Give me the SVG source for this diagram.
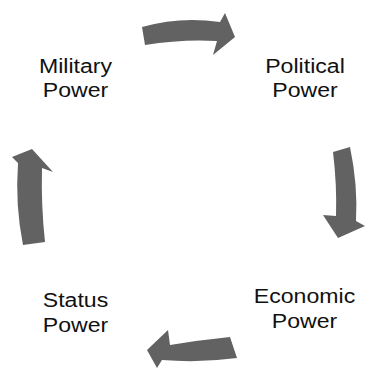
<svg xmlns="http://www.w3.org/2000/svg" width="367" height="374" viewBox="0 0 367 374">
  <defs>
    <filter id="soft" x="-10%" y="-10%" width="120%" height="120%">
      <feGaussianBlur stdDeviation="0.7"/>
    </filter>
  </defs>
  <style>
    .arrow { fill: #626262; filter: url(#soft); }
    .label { font-family: "Liberation Sans", Arial, sans-serif; font-size: 21px; fill: #111111; text-anchor: middle; }
  </style>
  <rect width="367" height="374" fill="#ffffff"/>

  <!-- cycle arrows -->
  <g id="connectors">
    <path class="arrow" d="M142,27 Q180,16 220,22 L225,13 L235,37 L213,55 L217,41 Q182,39 145,45 Z"/>
    <path class="arrow" d="M333,152 L350,147 Q358,185 356,221 L365,226 L338,238 L323,215 L336,216 Q337,185 333,152 Z"/>
    <path class="arrow" d="M230,337 Q200,340 170,345 L168,330 L147,350 L157,368 L162,360 Q200,363 237,358 Z"/>
    <path class="arrow" d="M23,245 Q15,205 18,163 L12,157 L32,149 L53,172 L42,168 Q41,205 45,242 Z"/>
  </g>

  <g id="military">
    <g transform="translate(75.5 0) scale(1.1 1)">
      <text class="label" x="0" y="73">Military</text>
      <text class="label" x="0" y="97">Power</text>
    </g>
  </g>
  <g id="political">
    <g transform="translate(305 0) scale(1.1 1)">
      <text class="label" x="0" y="73">Political</text>
      <text class="label" x="0" y="97">Power</text>
    </g>
  </g>
  <g id="status">
    <g transform="translate(75.5 0) scale(1.1 1)">
      <text class="label" x="0" y="307">Status</text>
      <text class="label" x="0" y="332">Power</text>
    </g>
  </g>
  <g id="economic">
    <g transform="translate(304.5 0) scale(1.1 1)">
      <text class="label" x="0" y="303">Economic</text>
      <text class="label" x="0" y="328">Power</text>
    </g>
  </g>
</svg>
